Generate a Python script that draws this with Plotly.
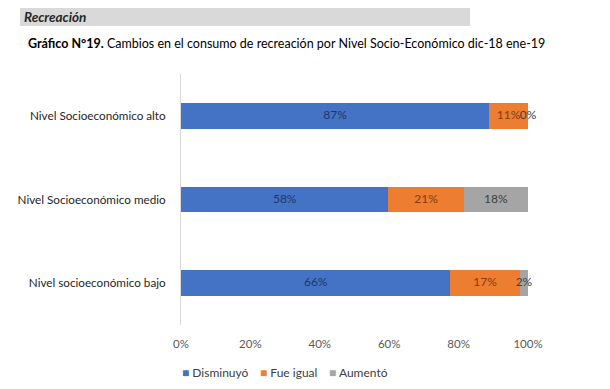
import plotly.graph_objects as go

categories = ["Nivel socioeconómico bajo", "Nivel Socioeconómico medio", "Nivel Socioeconómico alto"]
disminuyo = [66, 58, 87]
fue_igual = [17, 21, 11]
aumento = [2, 18, 0]
series_names = ["Disminuyó", "Fue igual", "Aumentó"]
tick_vals = [0, 20, 40, 60, 80, 100]
tick_text = ["0%", "20%", "40%", "60%", "80%", "100%"]

fill_colors = ["#4472C4", "#ED7D31", "#A5A5A5"]
text_colors = ["#1F3864", "#843C0C", "#404040"]
FONT = "Lato, 'Open Sans', sans-serif"

fig = go.Figure()
all_series = [disminuyo, fue_igual, aumento]
for name, vals, fc in zip(series_names, all_series, fill_colors):
    fig.add_trace(go.Bar(
        y=categories, x=vals, name=name, orientation="h",
        marker=dict(color=fc, line=dict(width=0)),
        hoverinfo="skip", showlegend=False,
    ))

# value labels centred on each (normalized) stacked segment
totals = [sum(s[i] for s in all_series) for i in range(len(categories))]
cum = [0] * len(categories)
for name, vals, tc in zip(series_names, all_series, text_colors):
    mids = []
    for i, v in enumerate(vals):
        mids.append((cum[i] + v / 2) / totals[i] * 100)
        cum[i] += v
    fig.add_trace(go.Scatter(
        x=mids, y=categories, text=[f"{v}%" for v in vals], mode="text",
        textposition="middle center", textfont=dict(color=tc, size=12, family=FONT),
        hoverinfo="skip", showlegend=False, cliponaxis=False, name=name + " etiqueta"))

L, R, T, B = 181, 528, 74, 325
W, H = 610, 389
def px(x):
    return (x - L) / (R - L)
def py(y):
    return (B - y) / (B - T)

legend_x = [182, 260, 329]
annotations = [
    dict(text="<b><i>Recreación</i></b>", xref="paper", yref="paper",
         x=px(22), y=py(17), xanchor="left", yanchor="middle", showarrow=False,
         font=dict(size=13.5, color="#262626", family=FONT)),
    dict(text="<b>Gráfico N°19.</b> Cambios en el consumo de recreación por Nivel Socio-Económico dic-18 ene-19",
         xref="paper", yref="paper", x=px(26), y=py(43), xanchor="left", yanchor="middle",
         showarrow=False, font=dict(size=12.5, color="#000000", family=FONT)),
]
for name, fc, lx in zip(series_names, fill_colors, legend_x):
    annotations.append(dict(
        text=f"<span style='color:{fc}'>■</span> {name}", xref="paper", yref="paper",
        x=px(lx - 2), y=py(372), xanchor="left", yanchor="middle", showarrow=False,
        font=dict(size=12, color="#404040", family=FONT)))

fig.update_layout(
    width=W, height=H,
    margin=dict(l=L, r=W - R, t=T, b=H - B),
    barmode="stack", barnorm="percent", bargap=0.69,
    plot_bgcolor="white", paper_bgcolor="white",
    font=dict(family=FONT, size=11, color="#262626"),
    showlegend=False,
    xaxis=dict(range=[0, 100], tickvals=tick_vals, ticktext=tick_text,
               showgrid=False, zeroline=False, showline=False,
               tickfont=dict(color="#595959", size=11.5, family=FONT), ticks="",
               ticklabelstandoff=10),
    yaxis=dict(showgrid=False, zeroline=False, showline=True, linecolor="#D9D9D9", linewidth=1,
               tickfont=dict(color="#262626", size=11.7, family=FONT), ticks="",
               ticklabelstandoff=12),
    shapes=[dict(type="rect", xref="paper", yref="paper",
                 x0=px(20), x1=px(470), y0=py(26), y1=py(8),
                 fillcolor="#D9D9D9", line=dict(width=0), layer="below")],
    annotations=annotations,
)
fig.write_html("out.html", config={"displayModeBar": False},
               post_script="document.body.style.margin='0';document.body.style.overflow='hidden';")
